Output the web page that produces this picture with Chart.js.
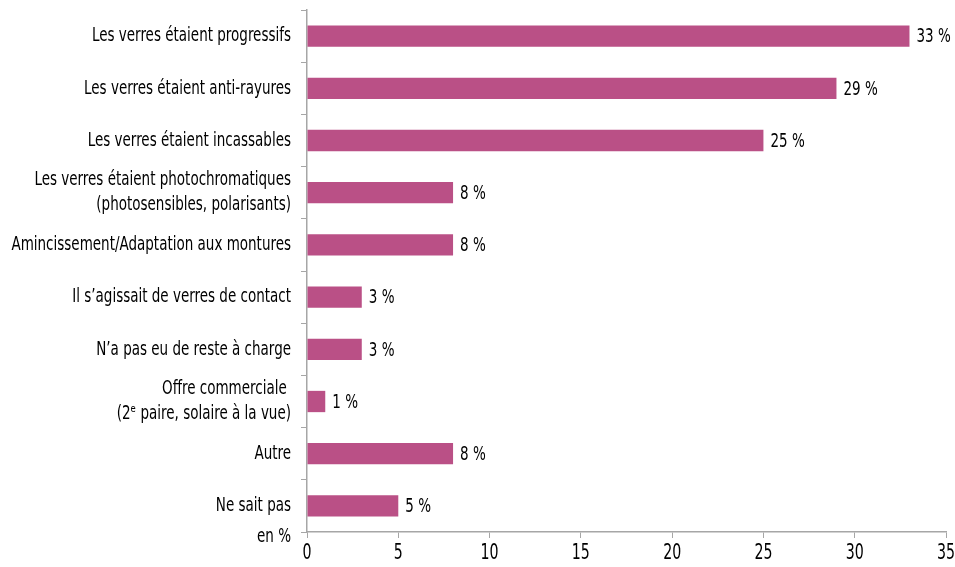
<!DOCTYPE html>
<html>
<head>
<meta charset="utf-8">
<title>Raisons du reste à charge</title>
<script src="https://cdn.jsdelivr.net/npm/chart.js@4/dist/chart.umd.min.js"></script>
<style>
  html, body { margin: 0; padding: 0; background: #fff; }
  #wrap { width: 955px; height: 567px; position: relative; }
</style>
</head>
<body>
<div id="wrap"><canvas id="chart"></canvas></div>
<script>
// données
const categories = [
  'Les verres étaient progressifs',
  'Les verres étaient anti-rayures',
  'Les verres étaient incassables',
  ['Les verres étaient photochromatiques', '(photosensibles, polarisants)'],
  'Amincissement/Adaptation aux montures',
  'Il s’agissait de verres de contact',
  'N’a pas eu de reste à charge',
  ['Offre commerciale ', '(2ᵉ paire, solaire à la vue)'],
  'Autre',
  'Ne sait pas'
];
const values = [33, 29, 25, 8, 8, 3, 3, 1, 8, 5];
const xTicks = [0, 5, 10, 15, 20, 25, 30, 35];
const unitLabel = 'en %';

const FONT = "'DejaVu Sans Condensed', 'DejaVu Sans', sans-serif";
const BAR = '#BA5086';
const AXIS = '#a6a6a6';
const TEXT = '#000';
const SX = 0.75; // police étroite (type Gill Sans condensé)

// texte resserré horizontalement
function narrowText(ctx, text, x, y, align) {
  ctx.save();
  ctx.translate(x, y);
  ctx.scale(SX, 1);
  ctx.textAlign = align;
  ctx.fillText(text, 0, 0);
  ctx.restore();
}

const labelsPlugin = {
  id: 'narrowLabels',
  afterDraw(chart) {
    const ctx = chart.ctx;
    const area = chart.chartArea;
    const yScale = chart.scales.y;
    const xScale = chart.scales.x;
    const meta = chart.getDatasetMeta(0);
    ctx.save();
    ctx.fillStyle = TEXT;
    ctx.textBaseline = 'middle';
    ctx.font = `20px ${FONT}`;

    // libellés des catégories
    const lx = yScale.right - 16;
    categories.forEach((lab, i) => {
      const yc = yScale.getPixelForValue(i);
      const lines = Array.isArray(lab) ? lab : [lab];
      const lh = 25;
      const y0 = yc - (lines.length - 1) * lh / 2;
      lines.forEach((t, j) => narrowText(ctx, t, lx, y0 + j * lh, 'right'));
    });
    narrowText(ctx, unitLabel, lx, area.bottom + 5, 'right');

    // valeurs au bout des barres
    meta.data.forEach((bar, i) => {
      narrowText(ctx, values[i] + ' %', bar.x + 7, bar.y + 1, 'left');
    });

    // graduations de l'axe des x
    ctx.font = `21px ${FONT}`;
    xTicks.forEach(v => {
      narrowText(ctx, String(v), xScale.getPixelForValue(v), area.bottom + 22, 'center');
    });
    ctx.restore();
  }
};

const ctx = document.getElementById('chart').getContext('2d');
new Chart(ctx, {
  type: 'bar',
  data: {
    labels: categories,
    datasets: [{
      data: values,
      backgroundColor: BAR,
      borderWidth: 0,
      barPercentage: 0.8,
      categoryPercentage: 0.51
    }]
  },
  options: {
    indexAxis: 'y',
    responsive: true,
    maintainAspectRatio: false,
    animation: false,
    layout: { padding: { top: 10, right: 9, bottom: 0, left: 0 } },
    plugins: {
      legend: { display: false },
      tooltip: { enabled: false }
    },
    scales: {
      x: {
        min: 0,
        max: 35,
        afterBuildTicks: (scale) => { scale.ticks = xTicks.map(v => ({ value: v })); },
        afterFit: (scale) => { scale.height = 35; },
        grid: { drawOnChartArea: false, drawTicks: true, tickLength: 6, color: AXIS },
        border: { color: AXIS, width: 1.5 },
        ticks: { display: false }
      },
      y: {
        afterFit: (scale) => { scale.width = 307; },
        grid: { drawOnChartArea: false, drawTicks: true, tickLength: 6, color: AXIS, offset: true },
        border: { color: AXIS, width: 1.5 },
        ticks: { display: false, autoSkip: false }
      }
    }
  },
  plugins: [labelsPlugin]
});
</script>
</body>
</html>
